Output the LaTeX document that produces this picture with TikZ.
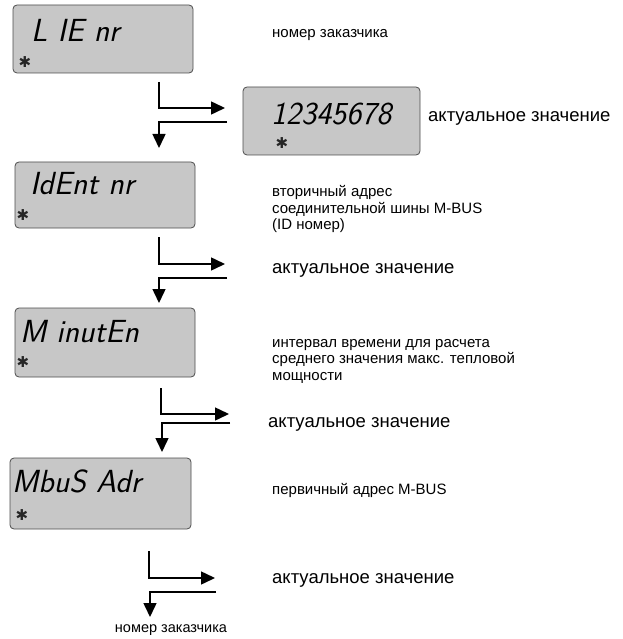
\documentclass[tikz,border=0pt]{standalone}
\usepackage{fontspec}
\setmainfont{Liberation Sans}
\newfontfamily\symfont{DejaVu Sans}
\usepackage{tikz}
\usetikzlibrary{positioning,arrows.meta}

\begin{document}
\begin{tikzpicture}[x=1pt,y=-1pt]
  \tikzset{LcdStyle/.style = {
    shape           = rectangle,
    draw            = black!70,
    fill            = black!22,
    rounded corners = 4pt,
    line width      = 0.8pt,
    minimum width   = 180pt,
    minimum height  = 68pt,
    inner sep       = 0pt
    }
  }
  \tikzset{LcdTextStyle/.style = {
    anchor    = base west,
    inner sep = 0pt,
    font      = \sffamily\slshape\fontsize{32}{32}\selectfont
    }
  }
  \tikzset{StarStyle/.style = {
    inner sep = 0pt,
    text      = black!85,
    font      = \symfont\fontsize{15}{15}\selectfont
    }
  }
  \tikzset{NoteStyle/.style = {
    anchor    = west,
    inner sep = 0pt,
    align     = left,
    font      = \fontsize{15}{16.5}\selectfont
    }
  }
  \tikzset{ValueStyle/.style = {
    NoteStyle,
    font      = \fontsize{18.5}{20}\selectfont
    }
  }
  \tikzset{ArrowStyle/.style = {
    draw       = black,
    line width = 1.5pt,
    -{Triangle[length=14pt,width=13pt]}
    }
  }

  \useasboundingbox (0,0) rectangle (622,639);

  % displays
  \node[LcdStyle](L1) at (103,39) {};
  \node[LcdStyle, minimum width=177pt](L2) at (331.5,121) {};
  \node[LcdStyle, minimum height=66pt](L3) at (105,195) {};
  \node[LcdStyle, minimum height=69pt](L4) at (105,342.5) {};
  \node[LcdStyle, minimum width=181pt, minimum height=71pt](L5) at (100.5,493.5) {};

  \node[LcdTextStyle](T1) at (31,42) {L IE nr};
  \node[LcdTextStyle](T2) at (271,125) {12345678};
  \node[LcdTextStyle](T3) at (30,194) {IdEnt nr};
  \node[LcdTextStyle](T4) at (20,342) {M inutEn};
  \node[LcdTextStyle](T5) at (12,492) {MbuS Adr};

  \node[StarStyle](S1) at (25,62) {✱};
  \node[StarStyle](S2) at (282,143) {✱};
  \node[StarStyle](S3) at (23,215) {✱};
  \node[StarStyle](S4) at (23,362) {✱};
  \node[StarStyle](S5) at (22,515) {✱};

  % notes
  \node[NoteStyle](N1) at (272,35) {номер заказчика};
  \node[ValueStyle](N2) at (428,118) {актуальное значение};
  \node[NoteStyle](N3) at (272,209) {вторичный адрес\\соединительной шины M-BUS\\(ID номер)};
  \node[ValueStyle](N4) at (272,270) {актуальное значение};
  \node[NoteStyle](N5) at (272,361) {интервал времени для расчета\\среднего значения макс. тепловой\\мощности};
  \node[ValueStyle](N6) at (268,424) {актуальное значение};
  \node[NoteStyle](N7) at (272,490) {первичный адрес M-BUS};
  \node[ValueStyle](N8) at (272,580) {актуальное значение};
  \node[NoteStyle, anchor=center, font=\fontsize{14.5}{16}\selectfont](N9) at (171,630) {номер заказчика};

  % steps
  \coordinate (a1) at (159,82);  \coordinate (b1) at (225,108);
  \coordinate (c1) at (227,122); \coordinate (d1) at (159,148);
  \coordinate (a2) at (159,237); \coordinate (b2) at (225,264);
  \coordinate (c2) at (227,278); \coordinate (d2) at (159,303);
  \coordinate (a3) at (161,388); \coordinate (b3) at (229,414);
  \coordinate (c3) at (230,423); \coordinate (d3) at (162,452);
  \coordinate (a4) at (149,551); \coordinate (b4) at (215,578);
  \coordinate (c4) at (216,592); \coordinate (d4) at (150,617);

  \draw[ArrowStyle](a1) |- (b1);
  \draw[ArrowStyle](c1) -| (d1);
  \draw[ArrowStyle](a2) |- (b2);
  \draw[ArrowStyle](c2) -| (d2);
  \draw[ArrowStyle](a3) |- (b3);
  \draw[ArrowStyle](c3) -| (d3);
  \draw[ArrowStyle](a4) |- (b4);
  \draw[ArrowStyle](c4) -| (d4);

\end{tikzpicture}
\end{document}
